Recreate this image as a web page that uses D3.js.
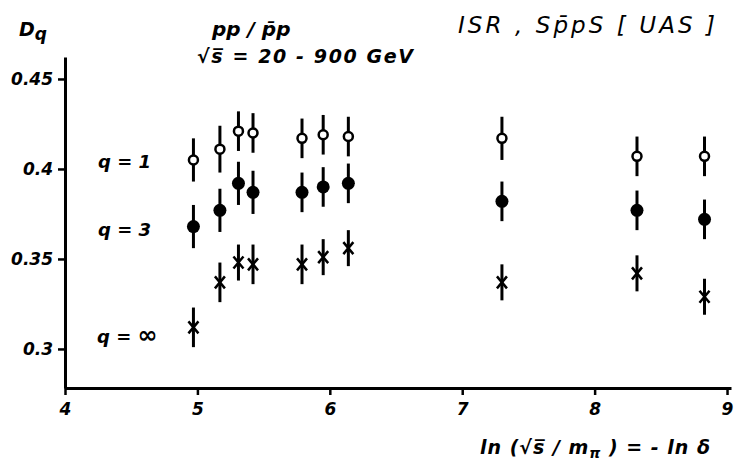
<!DOCTYPE html>
<html>
<head>
<meta charset="utf-8">
<script src="https://cdn.jsdelivr.net/npm/d3@7"></script>
<style>
  body { margin: 0; background: #fff; }
  svg text { font-family: "DejaVu Sans", sans-serif; font-style: italic; font-weight: bold; fill: #000; }
</style>
</head>
<body>
<script>
// ln(sqrt(s)/m_pi) positions and D_q values
const xVals  = [4.97, 5.17, 5.31, 5.42, 5.79, 5.95, 6.14, 7.30, 8.32, 8.83];
const dq1    = [0.405, 0.411, 0.421, 0.420, 0.417, 0.419, 0.418, 0.417, 0.407, 0.407];
const err1   = [0.012, 0.013, 0.011, 0.011, 0.011, 0.011, 0.011, 0.012, 0.011, 0.011];
const dq3    = [0.368, 0.377, 0.392, 0.387, 0.387, 0.390, 0.392, 0.382, 0.377, 0.372];
const err3   = [0.012, 0.012, 0.012, 0.012, 0.011, 0.011, 0.011, 0.011, 0.011, 0.011];
const dqInf  = [0.312, 0.337, 0.348, 0.347, 0.347, 0.351, 0.356, 0.337, 0.342, 0.329];
const errInf = [0.011, 0.011, 0.010, 0.011, 0.011, 0.010, 0.010, 0.010, 0.010, 0.010];
const xTicks = [4, 5, 6, 7, 8, 9];
const yTicks = [0.3, 0.35, 0.4, 0.45];
const yTickLabels = ["0.3", "0.35", "0.4", "0.45"];

const width = 737, height = 472;

let svg = d3.select("body").append("svg")
    .attr("width", width)
    .attr("height", height);

let x = d3.scaleLinear().domain([4, 9.03]).range([65, 731]);
let y = d3.scaleLinear().domain([0.2783, 0.4622]).range([388, 57]);

// axes
let xAxis = svg.append("g")
    .attr("transform", "translate(0," + y(0.2783) + ")")
    .call(d3.axisBottom(x).tickValues(xTicks).tickSize(7).tickSizeOuter(0).tickPadding(8)
        .tickFormat(d3.format("d")));

let yAxis = svg.append("g")
    .attr("transform", "translate(" + x(4) + ",0)")
    .call(d3.axisLeft(y).tickValues(yTicks).tickSize(7).tickSizeOuter(0).tickPadding(5)
        .tickFormat((d, i) => yTickLabels[i]));

[xAxis, yAxis].forEach(function (g) {
    g.select(".domain").attr("stroke-width", 3);
    g.selectAll(".tick line").attr("stroke-width", 2.5);
    g.selectAll(".tick text").style("font-size", "17px").attr("fill", "#000");
});

// error bars + markers for each series
let series = [
    { vals: dq1, errs: err1, kind: "open" },
    { vals: dq3, errs: err3, kind: "filled" },
    { vals: dqInf, errs: errInf, kind: "cross" }
];

series.forEach(function (s) {
    let pts = xVals.map((xv, i) => ({ x: xv, y: s.vals[i], e: s.errs[i] }));
    let g = svg.append("g");

    g.selectAll(".err")
        .data(pts)
        .enter().append("line")
        .attr("x1", d => x(d.x))
        .attr("x2", d => x(d.x))
        .attr("y1", d => y(d.y + d.e))
        .attr("y2", d => y(d.y - d.e))
        .attr("stroke", "#000")
        .attr("stroke-width", 3);

    if (s.kind === "open") {
        g.selectAll(".dot")
            .data(pts)
            .enter().append("circle")
            .attr("cx", d => x(d.x))
            .attr("cy", d => y(d.y))
            .attr("r", 4.5)
            .attr("fill", "#fff")
            .attr("stroke", "#000")
            .attr("stroke-width", 2.5);
    } else if (s.kind === "filled") {
        g.selectAll(".dot")
            .data(pts)
            .enter().append("circle")
            .attr("cx", d => x(d.x))
            .attr("cy", d => y(d.y))
            .attr("r", 6.5)
            .attr("fill", "#000");
    } else {
        g.selectAll(".dot")
            .data(pts)
            .enter().append("path")
            .attr("d", function (d) {
                let cx = x(d.x), cy = y(d.y), rx = 5, ry = 6;
                return "M" + (cx - rx) + "," + (cy - ry) + "L" + (cx + rx) + "," + (cy + ry) +
                       "M" + (cx - rx) + "," + (cy + ry) + "L" + (cx + rx) + "," + (cy - ry);
            })
            .attr("stroke", "#000")
            .attr("stroke-width", 2.5)
            .attr("fill", "none");
    }
});

// labels
let dq = svg.append("text").attr("x", 19).attr("y", 36).style("font-size", "19px");
dq.append("tspan").text("D");
dq.append("tspan").attr("dy", 4).style("font-size", "17px").text("q");

svg.append("text").attr("x", 212).attr("y", 36).style("font-size", "20px").text("pp / p\u0304p");
svg.append("text").attr("x", 197).attr("y", 63).style("font-size", "19px")
    .attr("textLength", 216).attr("lengthAdjust", "spacing").text("\u221As\u0305 = 20 - 900 GeV");
svg.append("text").attr("x", 458).attr("y", 33).style("font-size", "23px").style("font-weight", "normal")
    .attr("textLength", 257).attr("lengthAdjust", "spacing").text("ISR , Sp\u0304pS  [ UAS ]");

svg.append("text").attr("x", 98).attr("y", 168).style("font-size", "18px").text("q = 1");
svg.append("text").attr("x", 98).attr("y", 236).style("font-size", "18px").text("q = 3");
let qi = svg.append("text").attr("x", 97).attr("y", 343).style("font-size", "18px");
qi.append("tspan").text("q = ");
qi.append("tspan").style("font-size", "24px").style("font-style", "normal").text("\u221E");

let xl = svg.append("text").attr("x", 480).attr("y", 454).style("font-size", "19px")
    .style("letter-spacing", "1px");
xl.append("tspan").text("ln (\u221As\u0305 / m");
xl.append("tspan").attr("dy", 4).style("font-size", "14px").text("\u03C0");
xl.append("tspan").attr("dy", -4).text(" )  =  - ln \u03B4");
</script>
</body>
</html>
